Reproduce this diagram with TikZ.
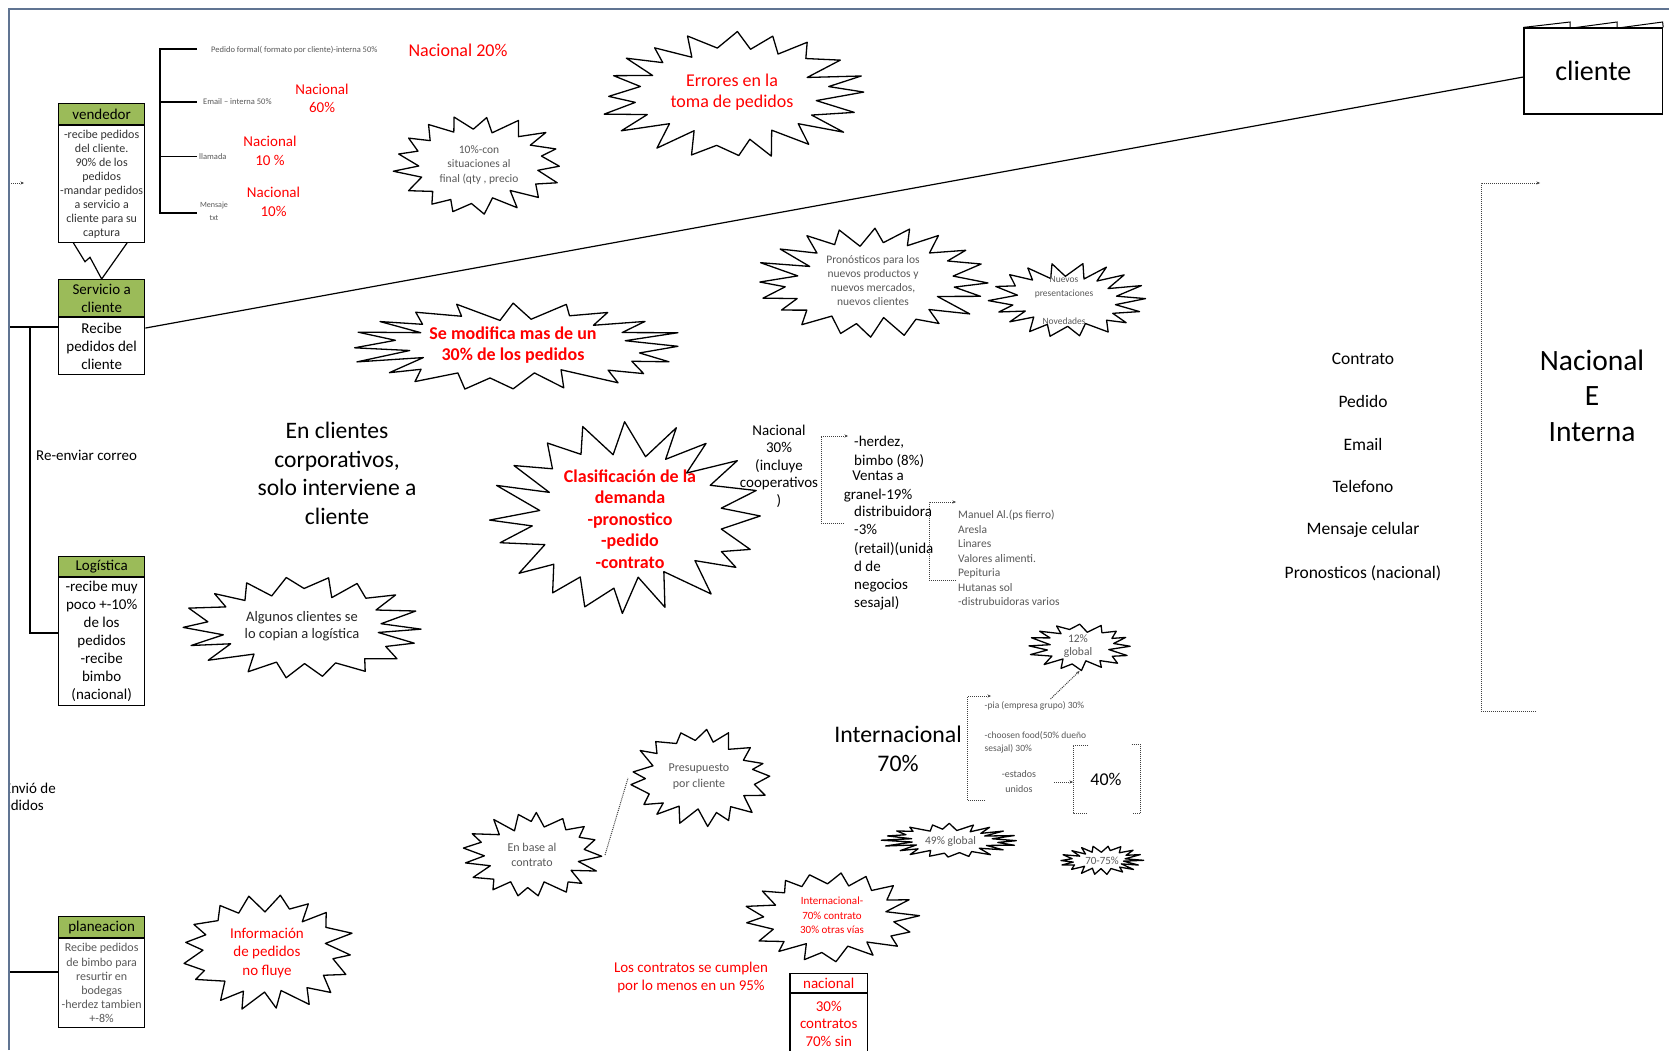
\documentclass[tikz,border=0pt]{standalone}
\usepackage{fontspec}
\setmainfont{Carlito}
\usetikzlibrary{arrows.meta}
\definecolor{hdrgreen}{RGB}{155,187,89}
\definecolor{framecol}{RGB}{96,116,146}
\definecolor{alert}{RGB}{255,0,0}
\definecolor{softtext}{RGB}{89,89,89}
\newcommand\fsz[2]{\fontsize{#1}{#2}\selectfont}

% irregular starburst outline: name, centre, x radius, y radius, points, depth, seed
\newcommand\burst[7]{%
  \pgfmathsetseed{#7}%
  \gdef\burstpath{}%
  \pgfmathtruncatemacro\burstlast{2*#5-1}%
  \foreach \k in {0,...,\burstlast}{%
    \pgfmathsetmacro\burstang{(\k+0.3*rand)*180/#5}%
    \pgfmathsetmacro\burstfac{ifthenelse(mod(\k,2)==0,1-0.08*rnd,1-#6*(0.7+0.6*rnd))}%
    \pgfmathsetmacro\burstx{cos(\burstang)*#3*\burstfac}%
    \pgfmathsetmacro\bursty{sin(\burstang)*#4*\burstfac}%
    \xdef\burstpath{\burstpath(\burstx,\bursty)--}%
  }%
  \draw[burstline,shift={#2}] \burstpath cycle;
  \path[shift={#2}] (0,0) coordinate (#1) (#3,0) coordinate (#1-e) (-#3,0) coordinate (#1-w)
     (0,#4) coordinate (#1-s) (0,-#4) coordinate (#1-n);
}

\begin{document}
\begin{tikzpicture}[x=1pt,y=-1pt,
  txt/.style={inner sep=0pt,align=center},
  burstline/.style={line width=1.3pt,line join=round},
  conn/.style={line width=1.2pt},
  boxline/.style={draw,line width=1.2pt,inner sep=0pt,align=center,anchor=north},
  hdr/.style={boxline,fill=hdrgreen,font=\fsz{15}{18}},
  dotline/.style={densely dotted,line width=1pt,black!75},
  tip/.style={-{Stealth[length=3.5pt,width=3pt]}},
]
\useasboundingbox (0,0) rectangle (1669,1050);
\fill[white] (0,0) rectangle (1669,1050);

% ---------- department boxes ----------
\node[hdr,minimum width=86.3pt,minimum height=20.5pt] (vend-h) at (101.65,103) {vendedor};
\node[boxline,minimum width=86.3pt,minimum height=117pt,font=\fsz{12}{14},text=black!80] (vend-b) at (vend-h.south)
  {-recibe pedidos\\del cliente.\\90\% de los\\pedidos\\-mandar pedidos\\a servicio a\\cliente para su\\captura};

\node[hdr,minimum width=86.3pt,minimum height=37pt] (serv-h) at (101.65,279) {Servicio a\\cliente};
\node[boxline,minimum width=86.3pt,minimum height=56.5pt,font=\fsz{15}{18}] (serv-b) at (serv-h.south)
  {Recibe\\pedidos del\\cliente};

\node[hdr,minimum width=86.3pt,minimum height=20pt] (logi-h) at (101.65,556) {Logística};
\node[boxline,minimum width=86.3pt,minimum height=127.6pt,font=\fsz{15}{18}] (logi-b) at (logi-h.south)
  {-recibe muy\\poco +-10\%\\de los\\pedidos\\-recibe\\bimbo\\(nacional)};

\node[hdr,minimum width=86.3pt,minimum height=21pt] (plan-h) at (101.65,916) {planeacion};
\node[boxline,minimum width=86.3pt,minimum height=89pt,font=\fsz{12}{14.2},text=softtext] (plan-b) at (plan-h.south)
  {Recibe pedidos\\de bimbo para\\resurtir en\\bodegas\\-herdez tambien\\+-8\%};

\node[boxline,minimum width=77.5pt,minimum height=19pt,font=\fsz{15}{18},text=alert] (nac-h) at (828.75,973) {nacional};
\node[boxline,minimum width=77.5pt,minimum height=60pt,font=\fsz{15}{17.8},text=alert] (nac-b) at (nac-h.south)
  {30\%\\contratos\\70\% sin};

% ---------- cliente folder ----------
\node[draw,line width=1.2pt,minimum width=138.6pt,minimum height=86pt,inner sep=0pt,font=\fsz{28}{34}] (cliente) at (1593.3,71) {cliente};
\draw[line width=1pt] (cliente.north west) -- (1570,22) -- (1570,28)
  (1572,28) -- (1617,22) -- (1617,28)
  (1618,28) -- (1662.6,22) -- (cliente.north east);

% ---------- connectors between boxes ----------
\draw[conn] ([xshift=15.5pt]vend-b.south west) -- (85,261.7) -- (90,257.3) -- (serv-h.north) -- ([xshift=-18.3pt]vend-b.south east);
\draw[conn] ([yshift=18pt]serv-b.east) -- ([yshift=-6pt]cliente.west);

\coordinate (fr-serv) at (9,327);
\coordinate (split) at (30,327);
\coordinate (logi-in) at (30,633);
\coordinate (fr-plan) at (9,972);
\draw[conn] (fr-serv) -- (serv-b.west |- fr-serv);
\draw[conn] (split) -- (logi-in) -- (logi-b.west |- logi-in);
\draw[conn] (fr-plan) -- (plan-b.west |- fr-plan);

\coordinate (stub-a) at (11,183);
\coordinate (stub-b) at (24,183);
\draw[dotline,tip] (stub-a) -- (stub-b);

% ---------- order channels of the seller ----------
\coordinate (vb-1) at (197,49);
\coordinate (vb-2) at (197,102);
\coordinate (vb-3) at (197,156.5);
\coordinate (vb-4) at (197,213);
\draw[conn] (vb-1) -- (160,49) -- (160,213) -- (vb-4);
\draw[conn] (160,102) -- (vb-2) (160,156.5) -- (vb-3);
\node[txt,anchor=west,font=\fsz{8.5}{10},text=softtext] (ch-pedido) at (211,50) {Pedido formal( formato por cliente)-interna 50\%};
\node[txt,anchor=west,font=\fsz{8.5}{10},text=softtext] (ch-email) at (203,102) {Email – interna 50\%};
\node[txt,anchor=west,font=\fsz{8.5}{10},text=softtext] (ch-llamada) at (199,156.5) {llamada};
\node[txt,font=\fsz{8}{12.5},text=softtext] (ch-msg) at (214,211.5) {Mensaje\\txt};

\node[txt,font=\fsz{18}{21},text=alert] (n20) at (458,50) {Nacional 20\%};
\node[txt,font=\fsz{15}{18.5},text=alert] (n60) at (322,98.3) {Nacional\\60\%};
\node[txt,font=\fsz{15}{18.5},text=alert] (n10a) at (270,150.7) {Nacional\\10 \%};
\node[txt,font=\fsz{15}{18.5},text=alert] (n10b) at (273.5,202) {Nacional\\10\%};

% ---------- starbursts ----------
\burst{tenpct}{(479,164.5)}{87}{50.5}{17}{0.3}{11}
\node[txt,font=\fsz{11.5}{14.5},text=softtext] (tenpct-t) at (479,164.5) {10\%-con\\situaciones al\\final (qty , precio};

\burst{errores}{(733,95)}{135}{65}{20}{0.3}{23}
\node[txt,font=\fsz{18}{21},text=alert] (errores-t) at (732,92.5) {Errores en la\\toma de pedidos};

\burst{pronos}{(873,281)}{119}{57}{20}{0.32}{37}
\node[txt,font=\fsz{11.5}{14.3},text=softtext] (pronos-t) at (873,280.5) {Pronósticos para los\\nuevos productos y\\nuevos mercados,\\nuevos clientes};

\burst{nuevos}{(1067.5,299.5)}{79.5}{38.5}{18}{0.33}{41}
\node[txt,font=\fsz{9.5}{14},text=softtext] (nuevos-t) at (1064,300) {Nuevos\\presentaciones\\[14pt]Novedades};

\burst{semodif}{(514,346.5)}{173}{45.5}{20}{0.34}{53}
\node[txt,font=\bfseries\fsz{18}{21},text=alert] (semodif-t) at (513,345.3) {Se modifica mas de un\\30\% de los pedidos};

\burst{clasif}{(627.5,517.5)}{140.5}{97.5}{20}{0.3}{67}
\node[txt,font=\bfseries\fsz{18}{21.5},text=alert] (clasif-t) at (630,519) {Clasificación de la\\demanda\\-pronostico\\-pedido\\-contrato};

\burst{algunos}{(302.5,628)}{123.5}{53}{18}{0.3}{71}
\node[txt,font=\fsz{14.5}{17.5},text=black!85] (algunos-t) at (302,626) {Algunos clientes se\\lo copian a logística};

\burst{info}{(268,952.5)}{89}{60.5}{17}{0.3}{83}
\node[txt,font=\fsz{15}{18.5},text=alert] (info-t) at (267,953) {Información\\de pedidos\\no fluye};

\burst{enbase}{(533.5,855)}{71.5}{44}{17}{0.3}{97}
\node[txt,font=\fsz{12}{15},text=softtext] (enbase-t) at (532,854.5) {En base al\\contrato};

\burst{presup}{(700,778)}{72}{50}{17}{0.3}{101}
\node[txt,font=\fsz{12}{15.5},text=softtext] (presup-t) at (699,776.5) {Presupuesto\\por cliente};

\burst{intl}{(832,916.5)}{89}{46.5}{17}{0.3}{113}
\node[txt,font=\fsz{11}{14.7},text=alert] (intl-t) at (832,915.3) {Internacional-\\70\% contrato\\30\% otras vías};

\burst{g12}{(1079.5,647)}{54.5}{24}{16}{0.35}{127}
\node[txt,font=\fsz{11.5}{13.5},text=softtext] (g12-t) at (1078,646) {12\%\\global};

\burst{g49}{(950.5,840.5)}{69.5}{17.5}{20}{0.35}{131}
\node[txt,font=\fsz{11.5}{13.5},text=softtext] (g49-t) at (950.5,841) {49\% global};

\burst{g70}{(1101,860)}{43}{15}{18}{0.4}{137}
\node[txt,font=\fsz{11}{13},text=softtext] (g70-t) at (1102,861) {70-75\%};

\draw[dotline] (enbase-e) -- (presup-w);

% ---------- free texts ----------
\node[txt,font=\fsz{23.6}{28.5}] (corp) at (337,473.6) {En clientes\\corporativos,\\solo interviene a\\cliente};
\node[txt,anchor=west,font=\fsz{15}{18}] (reenv) at (36,455.5) {Re-enviar correo};
\begin{scope}
  \clip (10,770) rectangle (80,820);
  \node[txt,anchor=east,font=\fsz{15}{18}] (envio1) at (56,788) {Envió de};
  \node[txt,anchor=east,font=\fsz{15}{18}] (envio2) at (44,806) {pedidos};
\end{scope}
\node[txt,font=\fsz{15}{18},text=alert] (cumplen) at (691,977.6) {Los contratos se cumplen\\por lo menos en un 95\%};

% ---------- national demand ----------
\node[txt,font=\fsz{15}{17.5}] (nac30) at (779,466) {Nacional\\30\%\\(incluye\\cooperativos\\)};
\coordinate (b1-top) at (848,436);
\coordinate (b1-bot) at (844,523);
\draw[dotline,tip] (b1-bot) -| (821,436) -- (b1-top);
\node[txt,anchor=west,align=left,font=\fsz{15}{19}] (herdez) at (854,451.5) {-herdez,\\bimbo (8\%)};
\node[txt,font=\fsz{15}{19}] (granel) at (878,486.5) {Ventas a\\granel-19\%};
\node[txt,anchor=north west,align=left,font=\fsz{15}{18.2}] (distrib) at (854,506) {distribuidora\\-3\%\\(retail)(unida\\d de\\negocios\\sesajal)};
\coordinate (b2-top) at (956,502);
\coordinate (b2-bot) at (956,580);
\draw[dotline,tip] (b2-bot) -| (929,502) -- (b2-top);
\node[txt,anchor=north west,align=left,font=\fsz{11.5}{14.5},text=softtext] (distlist) at (958,510)
  {Manuel Al.(ps fierro)\\Aresla\\Linares\\Valores alimenti.\\Pepituria\\Hutanas sol\\-distrubuidoras varios};

% ---------- international demand ----------
\node[txt,font=\fsz{23.8}{29}] (intl70) at (898,748.5) {Internacional\\70\%};
\coordinate (b3-top) at (991,696);
\coordinate (b3-bot) at (985,800);
\draw[dotline,tip] (b3-bot) -| (967.5,696) -- (b3-top);
\node[txt,anchor=west,font=\fsz{9.5}{13.5},text=softtext] (pia) at (984.5,706) {-pia (empresa grupo) 30\%};
\node[txt,anchor=west,align=left,font=\fsz{9.5}{13.5},text=softtext] (choosen) at (984.5,742.3) {-choosen food(50\% dueño\\sesajal) 30\%};
\node[txt,font=\fsz{10}{15},text=softtext] (eeuu) at (1019,781.5) {-estados\\unidos};
\coordinate (pia-end) at (1050.5,699);
\draw[dotline,tip] (pia-end) -- (g12-s);
\coordinate (us-a) at (1054,782);
\coordinate (b4-in) at (1073,782);
\draw[dotline,tip] (us-a) -- (b4-in);
\draw[dotline] (1088,745) -- (1073,745) -- (1073,813) -- (1088,813);
\draw[dotline] (1131.5,744) -- (1140,744) -- (1140,813) -- (1131.5,813);
\node[txt,font=\fsz{18}{21}] (pct40) at (1106,779) {40\%};

% ---------- channel list on the right ----------
\node[txt,font=\fsz{17.5}{21}] (r-contrato) at (1363,359) {Contrato};
\node[txt,font=\fsz{17.5}{21}] (r-pedido) at (1363,401) {Pedido};
\node[txt,font=\fsz{17.5}{21}] (r-email) at (1363,444) {Email};
\node[txt,font=\fsz{17.5}{21}] (r-tel) at (1363,486) {Telefono};
\node[txt,font=\fsz{17.5}{21}] (r-msg) at (1363,530) {Mensaje celular};
\node[txt,font=\fsz{17.5}{21}] (r-pron) at (1363,573) {Pronosticos (nacional)};
\coordinate (rb-top) at (1540,183);
\coordinate (rb-bot) at (1536,711);
\draw[dotline,tip] (rb-bot) -| (1481,183) -- (rb-top);
\node[txt,font=\fsz{29.5}{35.5}] (nac-int) at (1592,395.5) {Nacional\\E\\Interna};

% ---------- sheet frame ----------
\draw[framecol,line width=1.8pt] (9,1050) -- (9,9) -- (1669,9);
\end{tikzpicture}
\end{document}
